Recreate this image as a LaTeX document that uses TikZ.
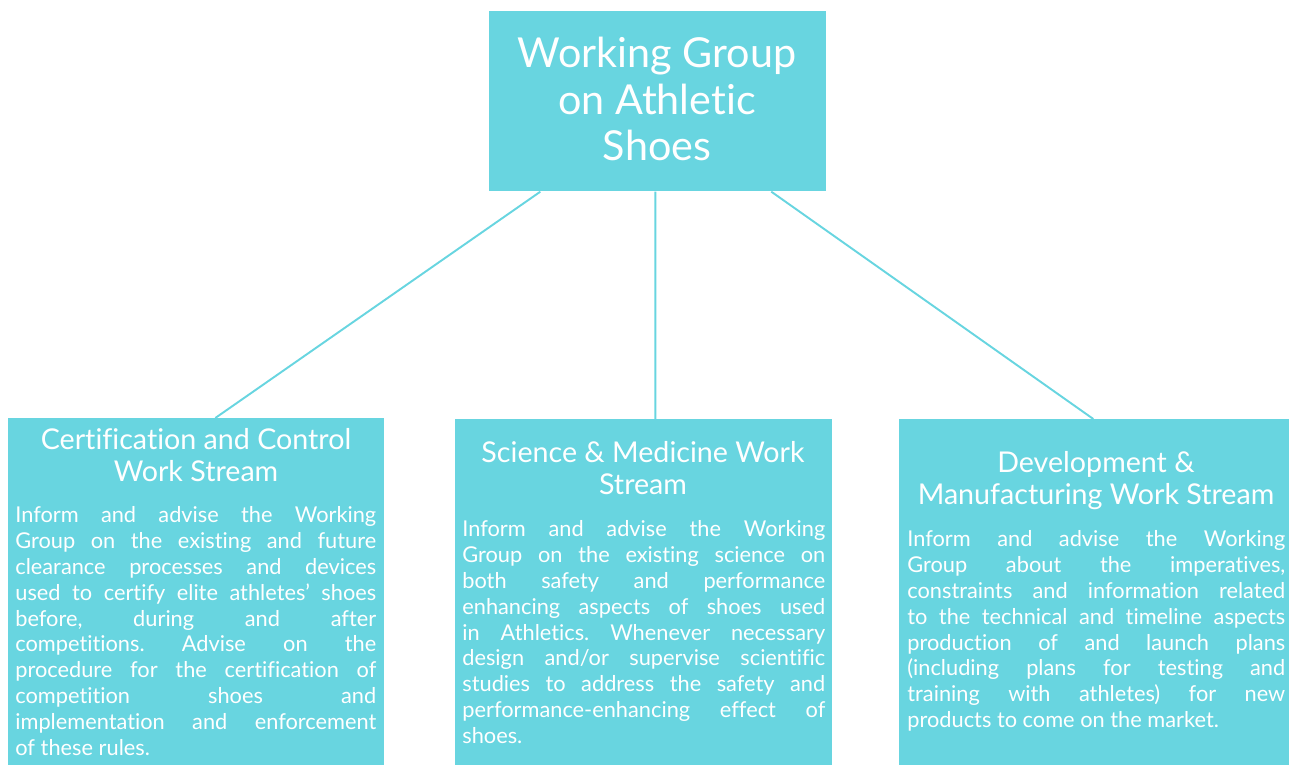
\documentclass[tikz,border=0pt]{standalone}
\usepackage{fontspec}
\setmainfont[Ligatures=NoCommon]{Lato}
\definecolor{wgcyan}{RGB}{104,213,224}
\frenchspacing

\begin{document}
\begin{tikzpicture}[x=0.02cm,y=-0.02cm,
    box/.style={fill=wgcyan,inner sep=0pt,anchor=north west},
    head/.style={text=white,align=center,inner sep=0pt,anchor=north,
        font=\fontsize{16.3}{18}\selectfont},
    body/.style={text=white,align=justify,inner sep=0pt,anchor=north west,
        font=\fontsize{12.4}{14.75}\selectfont},
    link/.style={draw=wgcyan,line width=1.1pt}]
    \useasboundingbox (0,0) rectangle (1289,765);
    % boxes
    \node[box,minimum width=6.74cm,minimum height=3.6cm] (wg) at (489,11) {};
    \node[box,minimum width=7.52cm,minimum height=6.94cm] (cert) at (8,418) {};
    \node[box,minimum width=7.54cm,minimum height=6.92cm] (sci) at (455,419) {};
    \node[box,minimum width=7.8cm,minimum height=6.92cm] (dev) at (899,419) {};
    % links
    \draw[link] ([xshift=-23.5mm]wg.south) -- ([xshift=3.8mm]cert.north);
    \draw[link] ([xshift=-0.5mm]wg.south) -- ([xshift=2.3mm]sci.north);
    \draw[link] ([xshift=22.7mm]wg.south) -- ([xshift=-0.2mm]dev.north);
    % texts
    \node[text=white,align=center,inner sep=0pt,
        font=\fontsize{23.5}{26.4}\selectfont] (wgtitle) at (657,99)
        {Working Group\\on Athletic\\Shoes};
    \node[head] (certhead) at (196,428) {Certification and Control\\Work Stream};
    \node[head] (scihead) at (643,441) {Science \& Medicine Work\\Stream};
    \node[head] (devhead) at (1096,451) {Development \&\\Manufacturing Work Stream};
    \node[body,text width=7.22cm] (certbody) at (15,506) {Inform and advise the Working\linebreak
        Group on the existing and future\linebreak
        clearance processes and devices\linebreak
        used to certify elite athletes’ shoes\linebreak
        before, during and after\linebreak
        competitions. Advise on the\linebreak
        procedure for the certification of\linebreak
        competition shoes and\linebreak
        implementation and enforcement\linebreak
        of these rules.};
    \node[body,text width=7.26cm] (scibody) at (462,520) {Inform and advise the Working\linebreak
        Group on the existing science on\linebreak
        both safety and performance\linebreak
        enhancing aspects of shoes used\linebreak
        in Athletics. Whenever necessary\linebreak
        design and/or supervise scientific\linebreak
        studies to address the safety and\linebreak
        performance-enhancing effect of\linebreak
        shoes.};
    \node[body,text width=7.56cm] (devbody) at (907,530) {Inform and advise the Working\linebreak
        Group about the imperatives,\linebreak
        constraints and information related\linebreak
        to the technical and timeline aspects\linebreak
        production of and launch plans\linebreak
        (including plans for testing and\linebreak
        training with athletes) for new\linebreak
        products to come on the market.};
\end{tikzpicture}
\end{document}
